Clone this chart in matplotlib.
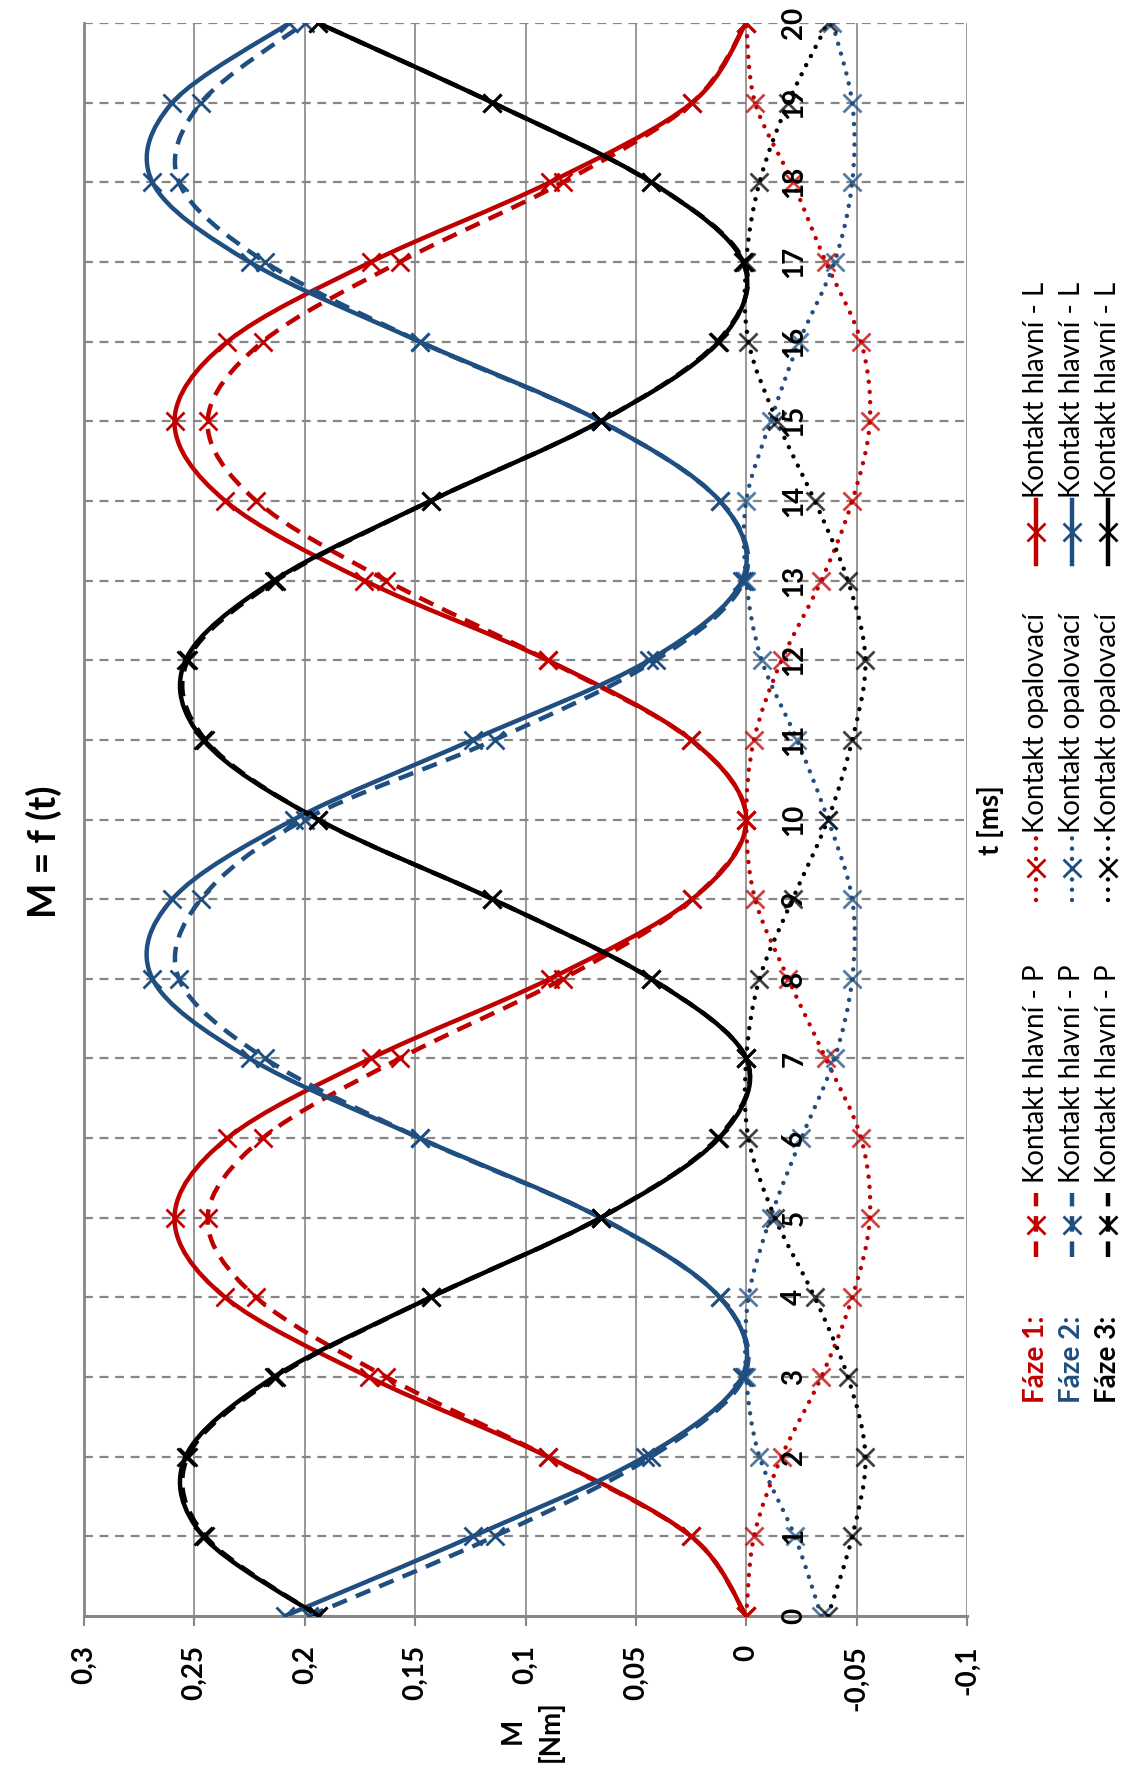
import numpy as np
import matplotlib
matplotlib.use('Agg')
import matplotlib.pyplot as plt
from matplotlib.path import Path
from matplotlib.patches import PathPatch
from matplotlib.lines import Line2D

plt.rcParams['font.family'] = ['Lato', 'DejaVu Sans']

# time axis [ms]
t = list(range(21))
t_labels = [str(v) for v in t]

m_ticks = [0.3, 0.25, 0.2, 0.15, 0.1, 0.05, 0, -0.05, -0.1]
m_labels = ['0,3', '0,25', '0,2', '0,15', '0,1', '0,05', '0', '-0,05', '-0,1']

# Faze 1 (red)
f1_P = [0, 0.025, 0.090, 0.163, 0.222, 0.244, 0.219, 0.157, 0.083, 0.0245, 0,
        0.025, 0.090, 0.163, 0.222, 0.244, 0.219, 0.157, 0.083, 0.0245, 0]
f1_opal = [0, -0.0035, -0.016, -0.034, -0.048, -0.056, -0.052, -0.036, -0.019, -0.004, 0,
           -0.0035, -0.016, -0.034, -0.048, -0.056, -0.052, -0.036, -0.021, -0.004, 0]
f1_L = [0, 0.025, 0.090, 0.171, 0.236, 0.259, 0.235, 0.170, 0.089, 0.0245, 0,
        0.025, 0.090, 0.173, 0.236, 0.259, 0.235, 0.170, 0.089, 0.0245, 0]

# Faze 2 (blue)
f2_P = [0.198, 0.114, 0.043, 0.001, 0.012, 0.066, 0.148, 0.218, 0.257, 0.247, 0.200,
        0.114, 0.041, 0.001, 0.012, 0.066, 0.148, 0.218, 0.257, 0.247, 0.200]
f2_opal = [-0.034, -0.022, -0.006, 0, -0.001, -0.011, -0.025, -0.040, -0.048, -0.048, -0.037,
           -0.023, -0.007, 0, 0, -0.011, -0.024, -0.040, -0.048, -0.048, -0.039]
f2_L = [0.209, 0.124, 0.046, 0.002, 0.012, 0.066, 0.148, 0.225, 0.269, 0.260, 0.205,
        0.124, 0.044, 0.002, 0.012, 0.066, 0.148, 0.225, 0.269, 0.260, 0.207]

# Faze 3 (black)
f3_P = [0.194, 0.245, 0.253, 0.213, 0.143, 0.066, 0.013, 0, 0.043, 0.115, 0.194,
        0.245, 0.253, 0.213, 0.143, 0.066, 0.013, 0.001, 0.043, 0.115, 0.194]
f3_opal = [-0.037, -0.048, -0.054, -0.046, -0.031, -0.013, -0.001, 0, -0.006, -0.021, -0.037,
           -0.048, -0.054, -0.046, -0.031, -0.014, -0.001, 0, -0.006, -0.019, -0.037]
f3_L = [0.194, 0.246, 0.254, 0.214, 0.143, 0.066, 0.0124, 0, 0.043, 0.115, 0.194,
        0.246, 0.254, 0.214, 0.143, 0.066, 0.0124, 0.0015, 0.043, 0.115, 0.194]

RED = '#C00000'
BLUE = '#1F4E80'
BLACK = '#000000'
GRID = '#868686'

W, H = 1123, 1770

phases = [
    ('Fáze 1:', RED, f1_P, f1_opal, f1_L),
    ('Fáze 2:', BLUE, f2_P, f2_opal, f2_L),
    ('Fáze 3:', BLACK, f3_P, f3_opal, f3_L),
]

DASHED = (0, (3.5, 2.2))
DOTTED = (0, (0.01, 2.3))
LW = 3.2
MS = 13
MEW = 2.0


def smooth_path(x, y):
    # Excel-like smoothed line: cubic bezier through the points
    pts = np.column_stack([x, y]).astype(float)
    n = len(pts)
    verts = [pts[0]]
    codes = [Path.MOVETO]
    for i in range(n - 1):
        p0 = pts[max(i - 1, 0)]
        p1 = pts[i]
        p2 = pts[i + 1]
        p3 = pts[min(i + 2, n - 1)]
        verts += [p1 + (p2 - p0) / 6, p2 - (p3 - p1) / 6, p2]
        codes += [Path.CURVE4] * 3
    return Path(verts, codes)


def draw_series(ax, values, color, style, lw, marker_alpha=1.0):
    cap = 'round' if style == DOTTED else 'butt'
    patch = PathPatch(smooth_path(values, t), fill=False, edgecolor=color, lw=lw,
                      linestyle=style, capstyle=cap, joinstyle='round', zorder=3)
    ax.add_patch(patch)
    ax.plot(values, t, ls='none', marker='x', ms=MS, mew=MEW, color=color,
            alpha=marker_alpha, zorder=4)


def fx(px):
    return px / W


def fy(py):
    return 1 - py / H


fig = plt.figure(figsize=(W / 100, H / 100), dpi=100)
ax = fig.add_axes([fx(84), fy(1616), fx(967) - fx(84), fy(23) - fy(1616)])

ax.set_xlim(0.3, -0.1)
ax.set_ylim(0, 20)

# gridlines
for m in m_ticks:
    ax.axvline(m, color=GRID, lw=1.2, zorder=1)
for tv in t[1:]:
    ax.axhline(tv, color=GRID, lw=1.6, ls=(0, (4, 3)), zorder=1)

for side in ['top', 'right']:
    ax.spines[side].set_visible(False)
ax.spines['left'].set_color(GRID)
ax.spines['left'].set_linewidth(2)
ax.spines['bottom'].set_color(GRID)
ax.spines['bottom'].set_linewidth(2.2)

ax.set_xticks(m_ticks)
ax.set_xticklabels(m_labels, rotation=90, fontsize=20, fontweight='bold')
ax.tick_params(axis='x', direction='out', length=7, width=1.5, color=GRID, pad=14)
ax.set_yticks([])

# category labels beside the t axis (crosses at M = 0)
for tv, lab in zip(t, t_labels):
    ax.text(-0.0218, tv, lab, rotation=90, ha='center', va='center',
            fontsize=20, fontweight='bold', zorder=5)

for name, color, p_vals, o_vals, l_vals in phases:
    draw_series(ax, o_vals, color, DOTTED, LW, marker_alpha=0.75)
    draw_series(ax, p_vals, color, DASHED, LW)
    draw_series(ax, l_vals, color, '-', LW)

# titles
fig.text(fx(44), fy(852), 'M = f (t)', rotation=90, ha='center', va='center',
         fontsize=27, fontweight='bold')
fig.text(fx(991), fy(820), 't [ms]', rotation=90, ha='center', va='center',
         fontsize=20, fontweight='bold')
fig.text(fx(532), fy(1731), 'M\n[Nm]', rotation=90, ha='center', va='center',
         fontsize=20, fontweight='bold', multialignment='center', linespacing=1.5)

# legend drawn by hand, rotated like the chart
rows_x = [1036, 1072, 1108]
entries = [
    ('Kontakt hlavní - P', DASHED, LW, 1257, 1193, 1183),
    ('Kontakt opalovací', DOTTED, LW, 900, 836, 833),
    ('Kontakt hlavní - L', '-', LW, 564, 500, 498),
]
for (name, color, _, _, _), x in zip(phases, rows_x):
    fig.text(fx(x), fy(1403), name, rotation=90, ha='center', va='bottom',
             fontsize=20, fontweight='bold', color=color)
    for label, style, lw, y0, y1, ytxt in entries:
        cap = 'round' if style == DOTTED else 'butt'
        fig.add_artist(Line2D([fx(x), fx(x)], [fy(y0), fy(y1)], color=color, lw=lw,
                              ls=style, dash_capstyle=cap, transform=fig.transFigure))
        fig.add_artist(Line2D([fx(x)], [fy((y0 + y1) / 2)], color=color, marker='x',
                              ms=MS, mew=MEW, ls='none', transform=fig.transFigure))
        fig.text(fx(x), fy(ytxt), label, rotation=90, ha='center', va='bottom',
                 fontsize=20, color='black')

fig.savefig('out.png', dpi=100)
